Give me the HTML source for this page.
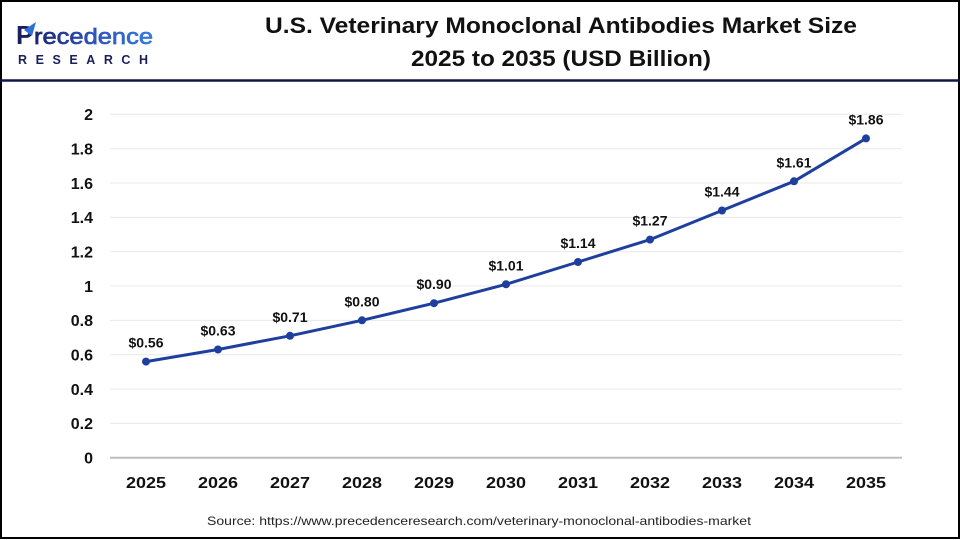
<!DOCTYPE html>
<html>
<head>
<meta charset="utf-8">
<style>
html,body{margin:0;padding:0;background:#fff;}
svg{display:block;}
</style>
</head>
<body>
<svg width="960" height="540" viewBox="0 0 960 540" xmlns="http://www.w3.org/2000/svg">
  <defs>
    <linearGradient id="lg" x1="0" y1="0" x2="1" y2="0">
      <stop offset="0" stop-color="#1c2370"/>
      <stop offset="0.45" stop-color="#2a4fb8"/>
      <stop offset="1" stop-color="#3a7be0"/>
    </linearGradient>
  </defs>
  <rect x="0" y="0" width="960" height="540" fill="#fff"/>
  <rect x="1" y="1" width="958" height="537" fill="none" stroke="#000" stroke-width="2"/>
  <line x1="0" y1="80.5" x2="960" y2="80.5" stroke="#0f1545" stroke-width="2.5"/>

  <!-- Logo -->
  <g font-family="Liberation Sans, sans-serif">
    <text x="16" y="44" font-size="26" font-weight="bold" fill="#1b1f5e">P</text>
    <path d="M24 30 L36 22 L32 36 Z" fill="#2f6fd8"/>
    <text x="34" y="44" font-size="22" fill="url(#lg)" stroke="url(#lg)" stroke-width="0.7" textLength="119" lengthAdjust="spacingAndGlyphs">recedence</text>
    <text x="18" y="64" font-size="12.5" font-weight="bold" fill="#1b1f5e" textLength="130" lengthAdjust="spacing">RESEARCH</text>
  </g>

  <!-- Title -->
  <g font-family="Liberation Sans, sans-serif" font-weight="bold" fill="#111" text-anchor="middle">
    <text x="561" y="33" font-size="22" textLength="592" lengthAdjust="spacingAndGlyphs">U.S. Veterinary Monoclonal Antibodies Market Size</text>
    <text x="561" y="66" font-size="22" textLength="300" lengthAdjust="spacingAndGlyphs">2025 to 2035 (USD Billion)</text>
  </g>

  <!-- Gridlines -->
  <g stroke="#e8e8e8" stroke-width="1">
    <line x1="110" y1="114.3" x2="902" y2="114.3"/>
    <line x1="110" y1="148.7" x2="902" y2="148.7"/>
    <line x1="110" y1="183.0" x2="902" y2="183.0"/>
    <line x1="110" y1="217.4" x2="902" y2="217.4"/>
    <line x1="110" y1="251.7" x2="902" y2="251.7"/>
    <line x1="110" y1="286.0" x2="902" y2="286.0"/>
    <line x1="110" y1="320.4" x2="902" y2="320.4"/>
    <line x1="110" y1="354.7" x2="902" y2="354.7"/>
    <line x1="110" y1="389.0" x2="902" y2="389.0"/>
    <line x1="110" y1="423.4" x2="902" y2="423.4"/>
  </g>
  <line x1="110" y1="457.7" x2="902" y2="457.7" stroke="#bdbdbd" stroke-width="2"/>

  <!-- Y labels -->
  <g font-family="Liberation Sans, sans-serif" font-weight="bold" font-size="16" fill="#111" text-anchor="end">
    <text x="93" y="120">2</text>
    <text x="93" y="154.5">1.8</text>
    <text x="93" y="188.8">1.6</text>
    <text x="93" y="223.2">1.4</text>
    <text x="93" y="257.5">1.2</text>
    <text x="93" y="291.8">1</text>
    <text x="93" y="326.2">0.8</text>
    <text x="93" y="360.5">0.6</text>
    <text x="93" y="394.8">0.4</text>
    <text x="93" y="429.2">0.2</text>
    <text x="93" y="463.5">0</text>
  </g>

  <!-- X labels -->
  <g font-family="Liberation Sans, sans-serif" font-weight="bold" font-size="16" fill="#111" text-anchor="middle">
    <text x="146" y="488" textLength="40" lengthAdjust="spacingAndGlyphs">2025</text>
    <text x="218" y="488" textLength="40" lengthAdjust="spacingAndGlyphs">2026</text>
    <text x="290" y="488" textLength="40" lengthAdjust="spacingAndGlyphs">2027</text>
    <text x="362" y="488" textLength="40" lengthAdjust="spacingAndGlyphs">2028</text>
    <text x="434" y="488" textLength="40" lengthAdjust="spacingAndGlyphs">2029</text>
    <text x="506" y="488" textLength="40" lengthAdjust="spacingAndGlyphs">2030</text>
    <text x="578" y="488" textLength="40" lengthAdjust="spacingAndGlyphs">2031</text>
    <text x="650" y="488" textLength="40" lengthAdjust="spacingAndGlyphs">2032</text>
    <text x="722" y="488" textLength="40" lengthAdjust="spacingAndGlyphs">2033</text>
    <text x="794" y="488" textLength="40" lengthAdjust="spacingAndGlyphs">2034</text>
    <text x="866" y="488" textLength="40" lengthAdjust="spacingAndGlyphs">2035</text>
  </g>

  <!-- Series -->
  <polyline fill="none" stroke="#1f3f9f" stroke-width="3" stroke-linejoin="round"
    points="146,361.6 218,349.5 290,335.8 362,320.3 434,303.2 506,284.3 578,262.0 650,239.6 722,210.5 794,181.3 866,138.4"/>
  <g fill="#1f3f9f">
    <circle cx="146" cy="361.6" r="4"/>
    <circle cx="218" cy="349.5" r="4"/>
    <circle cx="290" cy="335.8" r="4"/>
    <circle cx="362" cy="320.3" r="4"/>
    <circle cx="434" cy="303.2" r="4"/>
    <circle cx="506" cy="284.3" r="4"/>
    <circle cx="578" cy="262.0" r="4"/>
    <circle cx="650" cy="239.6" r="4"/>
    <circle cx="722" cy="210.5" r="4"/>
    <circle cx="794" cy="181.3" r="4"/>
    <circle cx="866" cy="138.4" r="4"/>
  </g>

  <!-- Data labels -->
  <g font-family="Liberation Sans, sans-serif" font-weight="bold" font-size="14" fill="#111" text-anchor="middle">
    <text x="146" y="347.6">$0.56</text>
    <text x="218" y="335.5">$0.63</text>
    <text x="290" y="321.8">$0.71</text>
    <text x="362" y="306.3">$0.80</text>
    <text x="434" y="289.2">$0.90</text>
    <text x="506" y="270.3">$1.01</text>
    <text x="578" y="248.0">$1.14</text>
    <text x="650" y="225.6">$1.27</text>
    <text x="722" y="196.5">$1.44</text>
    <text x="794" y="167.3">$1.61</text>
    <text x="866" y="124.4">$1.86</text>
  </g>

  <!-- Source -->
  <text x="479" y="525" font-family="Liberation Sans, sans-serif" font-size="12" fill="#222" text-anchor="middle" textLength="544" lengthAdjust="spacingAndGlyphs">Source: https://www.precedenceresearch.com/veterinary-monoclonal-antibodies-market</text>
</svg>
</body>
</html>
